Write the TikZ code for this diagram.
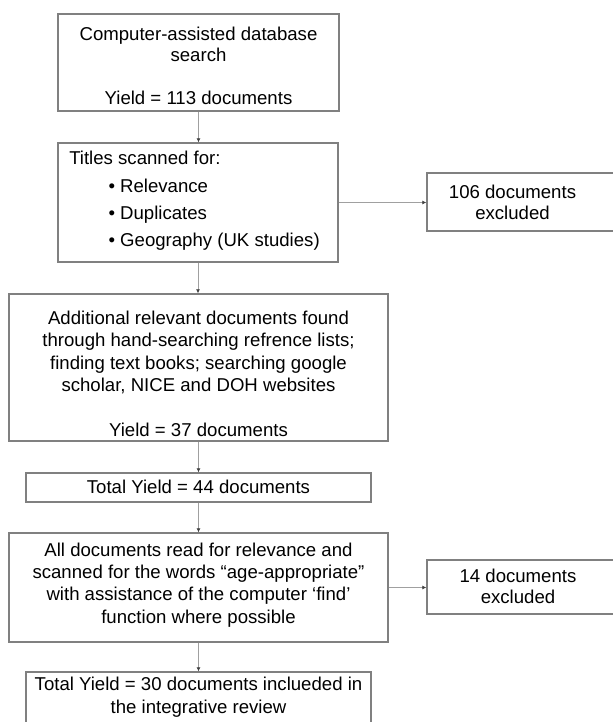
\documentclass[tikz,border=0pt]{standalone}
\usepackage{fontspec}
\setmainfont{Liberation Sans}
\usetikzlibrary{arrows.meta}
\definecolor{boxline}{HTML}{808080}
\definecolor{conline}{HTML}{A0A0A0}
\definecolor{tipcol}{HTML}{404040}
\tikzset{
  box/.style={draw=boxline, line width=1pt, inner sep=0pt, rectangle},
  txt/.style={inner sep=0pt, align=center, font=\fontsize{13.95pt}{16.6pt}\selectfont},
  con/.style={draw=conline, line width=0.75pt, -{Latex[length=3pt,width=3pt,color=tipcol]}}
}
\begin{document}
\begin{tikzpicture}[x=0.75pt,y=-0.75pt]
\useasboundingbox (0,0) rectangle (613,722);
% boxes
\node[box, minimum width=210.75pt, minimum height=72.75pt] (b1) at (198.5,62.5) {};
\node[box, minimum width=210pt, minimum height=89.25pt] (b2) at (198,202.5) {};
\node[box, minimum width=144.75pt, minimum height=43.5pt] (b3) at (523.5,202) {};
\node[box, minimum width=284.25pt, minimum height=110.25pt] (b4) at (198.5,367.5) {};
\node[box, minimum width=258.75pt, minimum height=21.75pt] (b5) at (198.5,487.5) {};
\node[box, minimum width=284.25pt, minimum height=81.75pt] (b6) at (198.5,587.5) {};
\node[box, minimum width=144.75pt, minimum height=40.5pt] (b7) at (523.5,587) {};
\node[box, minimum width=258.75pt, minimum height=39.75pt] (b8) at (198.5,698.5) {};
% texts
\node[txt, font=\fontsize{13.95pt}{16pt}\selectfont] (t1) at (198.5,66) {Computer-assisted database\\search\\[16pt]Yield = 113 documents};
\node[txt, align=left, anchor=west, font=\fontsize{13.95pt}{20.5pt}\selectfont] (t2) at (69,201)
  {Titles scanned for:\\
   \hspace*{29.6pt}\makebox[8.6pt][l]{•}Relevance\\
   \hspace*{29.6pt}\makebox[8.6pt][l]{•}Duplicates\\
   \hspace*{29.6pt}\makebox[8.6pt][l]{•}Geography (UK studies)};
\node[txt, font=\fontsize{13.95pt}{15.8pt}\selectfont] (t3) at (512.5,202.5) {106 documents\\excluded};
\node[txt, font=\fontsize{13.95pt}{16.9pt}\selectfont] (t4) at (198.5,374) {Additional relevant documents found\\through hand-searching refrence lists;\\finding text books; searching google\\scholar, NICE and DOH websites\\[16.9pt]Yield = 37 documents};
\node[txt] (t5) at (198.5,486.5) {Total Yield = 44 documents};
\node[txt, font=\fontsize{13.95pt}{16.7pt}\selectfont] (t6) at (198.5,585) {All documents read for relevance and\\scanned for the words “age-appropriate”\\with assistance of the computer ‘find’\\function where possible};
\node[txt, font=\fontsize{13.95pt}{15.8pt}\selectfont] (t7) at (518,586.5) {14 documents\\excluded};
\node[txt, font=\fontsize{13.95pt}{17.2pt}\selectfont] (t8) at (198.5,697.5) {Total Yield = 30 documents inclueded in\\the integrative review};
% connectors
\draw[con] (b1.south) -- (b1.south |- b2.north);
\draw[con] (b2.east) -- (b2.east -| b3.west);
\draw[con] (b2.south) -- (b2.south |- b4.north);
\draw[con] (b4.south) -- (b4.south |- b5.north);
\draw[con] (b5.south) -- (b5.south |- b6.north);
\draw[con] (b6.east) -- (b6.east -| b7.west);
\draw[con] (b6.south) -- (b6.south |- b8.north);
\end{tikzpicture}
\end{document}
